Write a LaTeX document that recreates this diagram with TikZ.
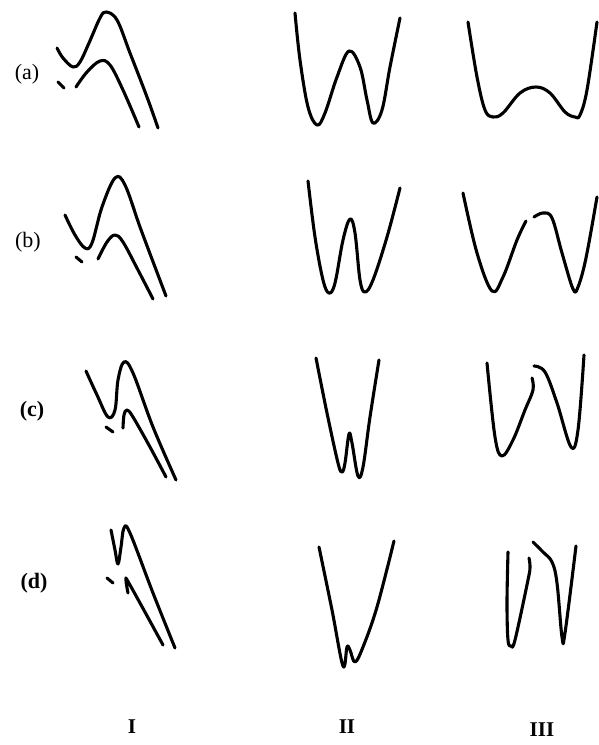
\documentclass[tikz,border=0pt]{standalone}
\usepackage{fontspec}
\setmainfont{Liberation Serif}
\begin{document}
\begin{tikzpicture}[x=1pt,y=-1pt,
  curve/.style={line width=3.1pt,line cap=round,line join=round},
  rowlab/.style={font=\fontsize{22}{24}\selectfont,anchor=center,inner sep=0pt},
  collab/.style={font=\fontsize{21}{24}\selectfont\bfseries,anchor=center,inner sep=0pt}]
\useasboundingbox (0,0) rectangle (598,745);

% row labels
\node[rowlab] (la) at (27,74) {(a)};
\node[rowlab] (lb) at (28,242) {(b)};
\node[rowlab,font=\fontsize{22}{24}\selectfont\bfseries] (lc) at (32,411) {(c)};
\node[rowlab,font=\fontsize{22}{24}\selectfont\bfseries] (ld) at (34,583) {(d)};

% column labels
\node[collab] (cI) at (132,727) {I};
\node[collab] (cII) at (347,727) {II};
\node[collab] (cIII) at (542,730) {III};

% ---------- row (a) ----------
\draw[curve] plot[smooth,tension=0.6] coordinates {(57,48) (63,58) (73,67) (80,62) (89,43) (100,18) (106,12) (117,20) (130,53) (147,97) (158,128)};
\draw[curve] plot[smooth,tension=0.6] coordinates {(76,87) (87,72) (100,61) (110,65) (123,90) (139,127)};
\draw[curve] (58,82) -- (64,88);
\draw[curve] plot[smooth,tension=0.6] coordinates {(295,13) (300,60) (308,107) (317,125) (325,113) (337,77) (349,51) (360,67) (367,100) (373,123) (382,110) (390,67) (400,18)};
\draw[curve] plot[smooth,tension=0.6] coordinates {(468,22) (477,77) (485,110) (493,117) (503,113) (520,93) (536,87) (550,93) (565,112) (575,117) (580,115) (587,90) (597,22)};

% ---------- row (b) ----------
\draw[curve] plot[smooth,tension=0.6] coordinates {(65,215) (75,235) (85,248) (92,243) (102,207) (115,178) (125,185) (140,227) (155,267) (166,296)};
\draw[curve] plot[smooth,tension=0.6] coordinates {(98,259) (107,242) (115,235) (123,242) (138,270) (153,299)};
\draw[curve] (76,257) -- (82,262);
\draw[curve] plot[smooth,tension=0.6] coordinates {(308,181) (315,237) (323,280) (329,293) (335,283) (343,240) (350,219) (355,233) (360,280) (365,292) (373,280) (387,237) (400,188)};
\draw[curve] plot[smooth,tension=0.6] coordinates {(463,193) (477,253) (492,291) (503,277) (517,240) (526,221)};
\draw[curve] plot[smooth,tension=0.6] coordinates {(534,217) (543,213) (552,218) (562,253) (573,289) (578,287) (586,258) (597,197)};

% ---------- row (c) ----------
\draw[curve] plot[smooth,tension=0.6] coordinates {(86,371) (97,395) (108,417) (115,410) (118,380) (124,362) (133,373) (153,427) (176,480)};
\draw[curve] plot[smooth,tension=0.6] coordinates {(123,428) (124,415) (127,410) (133,417) (150,447) (166,477)};
\draw[curve] (106,427) -- (113,432);
\draw[curve] plot[smooth,tension=0.6] coordinates {(316,358) (327,413) (338,463) (342,472) (345,463) (349,434) (352,443) (358,476) (363,467) (370,417) (379,360)};
\draw[curve] plot[smooth,tension=0.6] coordinates {(487,363) (495,437) (502,456) (513,440) (525,410) (533,390) (532,378)};
\draw[curve] plot[smooth,tension=0.6] coordinates {(534,366) (545,372) (557,403) (571,447) (578,430) (584,355)};

% ---------- row (d) ----------
\draw[curve] plot[smooth,tension=0.6] coordinates {(111,530) (115,550) (118,564) (121,547) (124,528) (130,533) (153,593) (175,648)};
\draw[curve] plot[smooth,tension=0.6] coordinates {(128,593) (126,580) (130,585) (163,645)};
\draw[curve] (107,578) -- (113,583);
\draw[curve] plot[smooth,tension=0.6] coordinates {(319,547) (332,610) (343,666) (347,647) (350,650) (355,662) (363,647) (377,607) (394,541)};
\draw[curve] plot[smooth,tension=0.6] coordinates {(508,552) (507,603) (508,640) (511,646) (515,640) (528,580) (530,567) (529,558)};
\draw[curve] plot[smooth,tension=0.6] coordinates {(533,542) (543,552) (552,562) (557,583) (562,637) (565,633) (576,546)};
\end{tikzpicture}
\end{document}
